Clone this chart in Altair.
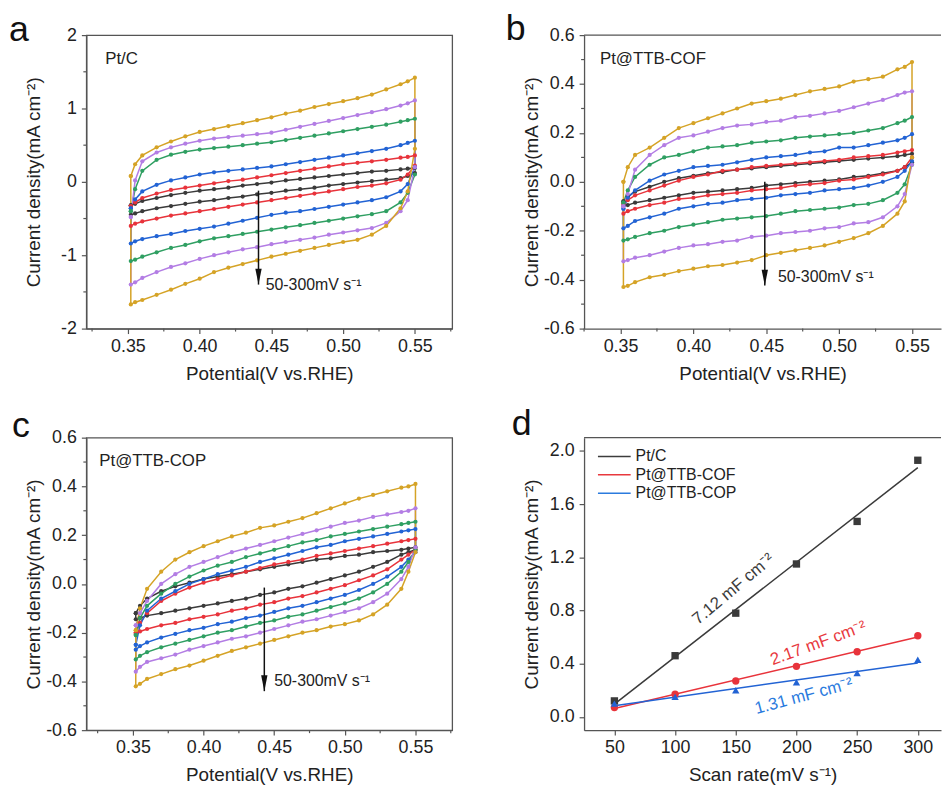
import altair as alt
import pandas as pd

FONT = "Liberation Sans"

# ---------------- CV data (potential grid, V vs RHE) ----------------
G = [0.352, 0.355, 0.36, 0.37, 0.38, 0.39, 0.40, 0.41, 0.42, 0.43, 0.44, 0.45,
     0.46, 0.47, 0.48, 0.49, 0.50, 0.51, 0.52, 0.53, 0.54, 0.545, 0.55]
RATES = [50, 100, 150, 200, 250, 300]
CV_COLORS = ["#3a3a3a", "#e8333b", "#2263d4", "#2f9f62", "#b37de4", "#d5a326"]

A_UP = {
    50: [-0.32, -0.30, -0.26, -0.22, -0.18, -0.15, -0.12, -0.10, -0.08, -0.05, -0.03, -0.01, 0.02, 0.04, 0.06, 0.08, 0.10, 0.12, 0.14, 0.15, 0.17, 0.18, 0.19],
    100: [-0.33, -0.28, -0.22, -0.16, -0.11, -0.08, -0.05, -0.02, 0.01, 0.03, 0.06, 0.09, 0.12, 0.15, 0.18, 0.21, 0.24, 0.26, 0.28, 0.30, 0.33, 0.34, 0.36],
    150: [-0.36, -0.24, -0.13, -0.04, 0.02, 0.06, 0.10, 0.13, 0.15, 0.17, 0.19, 0.21, 0.24, 0.27, 0.30, 0.33, 0.36, 0.39, 0.42, 0.45, 0.50, 0.53, 0.56],
    200: [-0.40, -0.10, 0.15, 0.30, 0.37, 0.41, 0.44, 0.46, 0.48, 0.50, 0.52, 0.54, 0.57, 0.60, 0.63, 0.66, 0.69, 0.72, 0.75, 0.78, 0.82, 0.84, 0.86],
    250: [-0.48, 0.02, 0.28, 0.40, 0.47, 0.52, 0.56, 0.59, 0.61, 0.63, 0.65, 0.67, 0.71, 0.75, 0.79, 0.83, 0.87, 0.91, 0.95, 0.99, 1.04, 1.07, 1.11],
    300: [0.08, 0.24, 0.36, 0.47, 0.55, 0.62, 0.68, 0.72, 0.76, 0.80, 0.84, 0.88, 0.93, 0.97, 1.02, 1.06, 1.10, 1.14, 1.19, 1.26, 1.33, 1.37, 1.42],
}
A_LOW = {
    50: [-0.45, -0.43, -0.40, -0.36, -0.33, -0.30, -0.27, -0.25, -0.22, -0.20, -0.17, -0.15, -0.12, -0.10, -0.08, -0.05, -0.03, -0.01, 0.01, 0.03, 0.05, 0.08, 0.12],
    100: [-0.60, -0.57, -0.54, -0.50, -0.46, -0.43, -0.40, -0.37, -0.34, -0.31, -0.28, -0.25, -0.22, -0.19, -0.16, -0.13, -0.10, -0.07, -0.05, -0.02, 0.03, 0.10, 0.22],
    150: [-0.84, -0.81, -0.78, -0.74, -0.71, -0.67, -0.64, -0.61, -0.57, -0.53, -0.49, -0.45, -0.42, -0.40, -0.37, -0.34, -0.31, -0.28, -0.25, -0.21, -0.13, -0.03, 0.20],
    200: [-1.08, -1.06, -1.02, -0.96, -0.90, -0.86, -0.81, -0.77, -0.74, -0.71, -0.68, -0.65, -0.62, -0.59, -0.56, -0.53, -0.50, -0.47, -0.44, -0.40, -0.28, -0.15, 0.10],
    250: [-1.40, -1.37, -1.31, -1.23, -1.16, -1.11, -1.05, -1.00, -0.96, -0.92, -0.89, -0.85, -0.82, -0.79, -0.76, -0.72, -0.69, -0.66, -0.63, -0.56, -0.40, -0.25, 0.20],
    300: [-1.67, -1.64, -1.61, -1.54, -1.47, -1.39, -1.32, -1.23, -1.17, -1.12, -1.07, -1.02, -0.98, -0.94, -0.90, -0.86, -0.82, -0.79, -0.72, -0.60, -0.36, -0.13, 0.45],
}

B_UP = {
    50: [-0.08, -0.06, -0.04, -0.02, 0.00, 0.015, 0.025, 0.035, 0.04, 0.05, 0.055, 0.06, 0.065, 0.07, 0.075, 0.08, 0.085, 0.09, 0.095, 0.10, 0.105, 0.11, 0.115],
    100: [-0.09, -0.075, -0.055, -0.035, -0.015, 0.005, 0.02, 0.03, 0.045, 0.05, 0.06, 0.065, 0.07, 0.075, 0.08, 0.085, 0.09, 0.10, 0.105, 0.11, 0.12, 0.125, 0.13],
    150: [-0.11, -0.065, -0.035, 0.005, 0.03, 0.045, 0.06, 0.065, 0.07, 0.08, 0.09, 0.10, 0.105, 0.11, 0.12, 0.125, 0.14, 0.14, 0.15, 0.16, 0.17, 0.18, 0.195],
    200: [-0.085, -0.035, 0.02, 0.07, 0.10, 0.11, 0.125, 0.14, 0.145, 0.15, 0.16, 0.165, 0.17, 0.18, 0.185, 0.19, 0.195, 0.20, 0.21, 0.22, 0.24, 0.25, 0.265],
    250: [-0.10, -0.05, 0.05, 0.11, 0.15, 0.18, 0.19, 0.205, 0.22, 0.23, 0.235, 0.245, 0.25, 0.265, 0.27, 0.28, 0.29, 0.305, 0.32, 0.335, 0.355, 0.365, 0.37],
    300: [0.00, 0.06, 0.11, 0.14, 0.18, 0.22, 0.24, 0.26, 0.28, 0.30, 0.32, 0.33, 0.34, 0.355, 0.37, 0.38, 0.39, 0.41, 0.42, 0.43, 0.46, 0.47, 0.49],
}
B_LOW = {
    50: [-0.10, -0.095, -0.085, -0.075, -0.065, -0.055, -0.045, -0.04, -0.035, -0.03, -0.025, -0.015, -0.01, -0.005, 0.00, 0.005, 0.01, 0.02, 0.025, 0.035, 0.045, 0.06, 0.08],
    100: [-0.13, -0.12, -0.11, -0.095, -0.085, -0.07, -0.065, -0.055, -0.05, -0.045, -0.035, -0.03, -0.025, -0.015, -0.01, -0.005, 0.005, 0.01, 0.02, 0.03, 0.045, 0.06, 0.10],
    150: [-0.19, -0.18, -0.16, -0.145, -0.13, -0.11, -0.10, -0.09, -0.085, -0.075, -0.07, -0.065, -0.055, -0.05, -0.045, -0.035, -0.03, -0.025, -0.015, 0.00, 0.02, 0.045, 0.085],
    200: [-0.24, -0.235, -0.225, -0.21, -0.20, -0.185, -0.175, -0.165, -0.155, -0.15, -0.145, -0.14, -0.13, -0.12, -0.115, -0.11, -0.105, -0.095, -0.09, -0.075, -0.045, -0.01, 0.07],
    250: [-0.325, -0.32, -0.31, -0.30, -0.285, -0.27, -0.26, -0.255, -0.245, -0.24, -0.225, -0.22, -0.21, -0.205, -0.20, -0.19, -0.185, -0.17, -0.165, -0.145, -0.10, -0.05, 0.07],
    300: [-0.43, -0.425, -0.41, -0.39, -0.38, -0.365, -0.355, -0.345, -0.34, -0.33, -0.32, -0.30, -0.29, -0.28, -0.27, -0.26, -0.245, -0.23, -0.21, -0.18, -0.13, -0.08, 0.10],
}

C_UP = {
    50: [-0.12, -0.09, -0.06, -0.03, -0.01, 0.005, 0.02, 0.03, 0.04, 0.05, 0.06, 0.07, 0.08, 0.09, 0.10, 0.105, 0.115, 0.12, 0.13, 0.135, 0.14, 0.145, 0.15],
    100: [-0.20, -0.16, -0.12, -0.07, -0.04, -0.015, 0.005, 0.02, 0.035, 0.05, 0.065, 0.08, 0.09, 0.10, 0.115, 0.125, 0.135, 0.145, 0.155, 0.165, 0.175, 0.18, 0.185],
    150: [-0.25, -0.17, -0.11, -0.06, -0.03, 0.00, 0.02, 0.04, 0.055, 0.07, 0.09, 0.105, 0.12, 0.135, 0.15, 0.16, 0.175, 0.185, 0.195, 0.205, 0.215, 0.22, 0.225],
    200: [-0.21, -0.14, -0.09, -0.04, 0.00, 0.03, 0.055, 0.075, 0.09, 0.11, 0.125, 0.14, 0.155, 0.17, 0.18, 0.195, 0.205, 0.215, 0.225, 0.235, 0.245, 0.25, 0.255],
    250: [-0.17, -0.12, -0.07, 0.00, 0.04, 0.07, 0.09, 0.11, 0.13, 0.145, 0.16, 0.175, 0.19, 0.205, 0.22, 0.235, 0.25, 0.26, 0.275, 0.285, 0.295, 0.30, 0.31],
    300: [-0.19, -0.10, -0.02, 0.05, 0.10, 0.13, 0.155, 0.175, 0.195, 0.21, 0.23, 0.24, 0.255, 0.27, 0.29, 0.31, 0.33, 0.35, 0.365, 0.38, 0.395, 0.40, 0.41],
}
C_LOW = {
    50: [-0.145, -0.14, -0.13, -0.12, -0.11, -0.10, -0.09, -0.08, -0.07, -0.06, -0.045, -0.035, -0.02, -0.01, 0.005, 0.02, 0.035, 0.05, 0.07, 0.09, 0.12, 0.13, 0.14],
    100: [-0.205, -0.195, -0.185, -0.17, -0.16, -0.145, -0.135, -0.125, -0.11, -0.10, -0.085, -0.075, -0.06, -0.05, -0.035, -0.02, -0.005, 0.015, 0.035, 0.06, 0.10, 0.12, 0.14],
    150: [-0.27, -0.255, -0.24, -0.22, -0.205, -0.19, -0.18, -0.165, -0.155, -0.14, -0.13, -0.115, -0.10, -0.09, -0.075, -0.06, -0.045, -0.025, 0.00, 0.03, 0.07, 0.10, 0.13],
    200: [-0.31, -0.295, -0.28, -0.26, -0.245, -0.23, -0.215, -0.20, -0.19, -0.175, -0.16, -0.15, -0.135, -0.125, -0.11, -0.095, -0.08, -0.06, -0.035, 0.00, 0.05, 0.09, 0.14],
    250: [-0.36, -0.34, -0.32, -0.305, -0.29, -0.27, -0.255, -0.24, -0.225, -0.215, -0.20, -0.185, -0.17, -0.155, -0.145, -0.13, -0.115, -0.10, -0.075, -0.04, 0.02, 0.07, 0.15],
    300: [-0.42, -0.41, -0.39, -0.37, -0.35, -0.335, -0.315, -0.295, -0.275, -0.26, -0.245, -0.23, -0.215, -0.20, -0.19, -0.175, -0.165, -0.15, -0.125, -0.085, -0.02, 0.05, 0.13],
}

SCAN = [50, 100, 150, 200, 250, 300]
D_PTC = [0.12, 0.46, 0.78, 1.15, 1.47, 1.93]
D_COF = [0.07, 0.17, 0.27, 0.38, 0.49, 0.61]
D_COP = [0.10, 0.15, 0.20, 0.26, 0.33, 0.43]
SAMPLES = ["Pt/C", "Pt@TTB-COF", "Pt@TTB-COP"]
D_COLORS = ["#3c3c3c", "#e8393e", "#2b7bde"]
D_SHAPES = ["square", "circle", "triangle-up"]
SLOPE_TEXT = ["7.12 mF cm\u207b\u00b2", "2.17 mF cm\u207b\u00b2", "1.31 mF cm\u207b\u00b2"]
SLOPE_X = [148, 218, 206]
SLOPE_Y = [0.96, 0.553, 0.155]
SLOPE_ANGLE = [320, 340, 345]

YTITLE = "Current density(mA cm\u207b\u00b2)"
XTITLE = "Potential(V vs.RHE)"
RATE_TEXT = "50-300mV s\u207b\u00b9"
ARROW_HEAD = "M-0.4,-1 L0.4,-1 L0,1 Z"
X_MAJOR = [0.35, 0.40, 0.45, 0.50, 0.55]
X_MINOR = [0.325, 0.375, 0.425, 0.475, 0.525, 0.575]
AXC = "#555555"


def cv_frame(up, low):
    rows = []
    for r in RATES:
        pts = list(zip(G, up[r])) + list(zip(G[::-1], low[r][::-1])) + [(G[0], up[r][0])]
        for i, (x, y) in enumerate(pts):
            rows.append({"rate": r, "i": i, "x": x, "y": y})
    return pd.DataFrame(rows)


def major_axis(title, values, fmt, **kw):
    return alt.Axis(title=title, values=values, format=fmt, tickSize=5,
                    labelExpr="replace(datum.label, '\u2212', '-')",
                    labelOverlap=False, labelFlush=False, grid=False, **kw)


def cond_axis(title, values, fmt, test, **kw):
    return alt.Axis(
        title=title, values=values, format=fmt,
        labelExpr=f"({test}) ? '' : replace(datum.label, '\u2212', '-')",
        tickSize={"condition": {"test": test, "value": 3}, "value": 5},
        labelOverlap=False, labelFlush=False, grid=False, **kw)


def one():
    return pd.DataFrame({"k": [0]})


def letter(ch, dx, dy):
    return alt.Chart(one()).mark_text(
        text=ch, font=FONT, fontSize=36, align="left", baseline="alphabetic", color="#111"
    ).encode(x=alt.value(dx), y=alt.value(dy))


def cv_panel(up, low, xdom, ydom, ymajor, yminor, yfmt, name, name_dx, lt, lt_dx, lt_dy,
             arrow_x, arrow_y0, arrow_y1, txt_x, txt_y, width, height, right_col):
    df = cv_frame(up, low)
    xenc = alt.X("x:Q", scale=alt.Scale(domain=xdom, nice=False, zero=False),
                 axis=major_axis(XTITLE, X_MAJOR, ".2f", titleY=36, labelPadding=4))
    yenc = alt.Y("y:Q", scale=alt.Scale(domain=ydom, nice=False, zero=False),
                 axis=major_axis(YTITLE, ymajor, yfmt, titleX=-43, labelPadding=5))
    col = alt.Color("rate:N", scale=alt.Scale(domain=RATES, range=CV_COLORS), legend=None)
    base = alt.Chart(df)
    lines = base.mark_line(strokeWidth=1.5).encode(x=xenc, y=yenc, color=col, order="i:Q")
    pts = base.mark_circle(size=18, opacity=1).encode(x="x:Q", y="y:Q", color=col)

    xm = pd.DataFrame({"mx": [v for v in X_MINOR if xdom[0] <= v <= xdom[1]]})
    ym = pd.DataFrame({"my": yminor})
    xminor = alt.Chart(xm).mark_rule(color=AXC, strokeWidth=1.2).encode(
        x="mx:Q", y=alt.value(height), y2=alt.value(height + 3))
    yminor_r = alt.Chart(ym).mark_rule(color=AXC, strokeWidth=1.2).encode(
        y="my:Q", x=alt.value(0), x2=alt.value(-3))

    adf = pd.DataFrame({"x": [arrow_x], "y0": [arrow_y0], "y1": [arrow_y1]})
    rule = alt.Chart(adf).mark_rule(color="#111", strokeWidth=1.5).encode(
        x="x:Q", y="y0:Q", y2="y1:Q")
    head = alt.Chart(adf).mark_point(shape=ARROW_HEAD, size=256, filled=True, opacity=1,
                                     color="#111", yOffset=-8).encode(x="x:Q", y="y1:Q")
    tdf = pd.DataFrame({"x": [txt_x], "y": [txt_y], "t": [RATE_TEXT]})
    rtxt = alt.Chart(tdf).mark_text(font=FONT, fontSize=16, align="left", baseline="middle",
                                    color="#222").encode(x="x:Q", y="y:Q", text="t:N")
    ntxt = alt.Chart(one()).mark_text(text=name, font=FONT, fontSize=17, align="left",
                                      baseline="alphabetic", color="#222").encode(
        x=alt.value(name_dx), y=alt.value(29))
    layers = [lines, pts, xminor, yminor_r, rule, head, rtxt, ntxt, letter(lt, lt_dx, lt_dy)]
    props = dict(width=width, height=height)
    if right_col:
        layers.append(alt.Chart(one()).mark_rule(color=AXC, strokeWidth=1.3).encode(
            x=alt.value(0), x2=alt.value(width), y=alt.value(0)))
        props["view"] = alt.ViewBackground(strokeOpacity=0)
    return alt.layer(*layers).properties(**props)


W1, W2, H1, H2 = 369, 360, 296, 295
CV_MINOR_02 = [-0.5, -0.3, -0.1, 0.1, 0.3, 0.5]
CV_MAJOR_02 = [-0.6, -0.4, -0.2, 0.0, 0.2, 0.4, 0.6]

pa = cv_panel(A_UP, A_LOW, [0.321, 0.576], [-2, 2], [-2, -1, 0, 1, 2], [-1.5, -0.5, 0.5, 1.5], "d",
              "Pt/C", 19, "a", -78, 6, 0.441, -0.12, -1.40, 0.446, -1.40, W1, H1, False)
pb = cv_panel(B_UP, B_LOW, [0.325, 0.325 + W2 / 1470.0], [-0.6, 0.6], CV_MAJOR_02, CV_MINOR_02, ".1f",
              "Pt@TTB-COF", 16, "b", -79, 5, 0.449, 0.0, -0.424, 0.458, -0.39, W2, H1, True)
pc = cv_panel(C_UP, C_LOW, [0.317, 0.576], [-0.6, 0.6], CV_MAJOR_02, CV_MINOR_02, ".1f",
              "Pt@TTB-COP", 13, "c", -75, -1, 0.443, -0.015, -0.44, 0.450, -0.40, W1, H2, False)

# ---------------- panel d ----------------
rows = []
for s, vals in zip(SAMPLES, [D_PTC, D_COF, D_COP]):
    for r, j in zip(SCAN, vals):
        rows.append({"sample": s, "rate": r, "j": j})
ddf = pd.DataFrame(rows)

dx_dom = [25, 25 + W2 / 1.224]
d_xtest = "datum.value % 50 != 0"
d_ytest = "abs(datum.value*2.5 - round(datum.value*2.5)) > 0.01"
dxenc = alt.X("rate:Q", scale=alt.Scale(domain=dx_dom, nice=False, zero=False),
              axis=cond_axis("Scan rate(mV s\u207b\u00b9)", [50, 75, 100, 125, 150, 175, 200, 225, 250, 275, 300],
                             "d", d_xtest, titleY=36, labelPadding=4))
dyenc = alt.Y("j:Q", scale=alt.Scale(domain=[-0.1, 2.1], nice=False, zero=False),
              axis=cond_axis(YTITLE, [0, 0.2, 0.4, 0.6, 0.8, 1.0, 1.2, 1.4, 1.6, 1.8, 2.0],
                             ".1f", d_ytest, titleX=-43, labelPadding=5))
dcol = alt.Color("sample:N", scale=alt.Scale(domain=SAMPLES, range=D_COLORS), legend=None)
dshape = alt.Shape("sample:N", scale=alt.Scale(domain=SAMPLES, range=D_SHAPES), legend=None)

dbase = alt.Chart(ddf)
fit = dbase.transform_regression("rate", "j", groupby=["sample"]).mark_line(strokeWidth=1.5).encode(
    x=dxenc, y=dyenc, color=dcol)
dpts = dbase.mark_point(filled=True, size=55, opacity=1).encode(
    x="rate:Q", y="j:Q", color=dcol, shape=dshape)

d_layers = [fit, dpts]
for t, x, y, a, c in zip(SLOPE_TEXT, SLOPE_X, SLOPE_Y, SLOPE_ANGLE, D_COLORS):
    sdf = pd.DataFrame({"rate": [x], "j": [y], "t": [t]})
    d_layers.append(alt.Chart(sdf).mark_text(font=FONT, fontSize=17, angle=a, align="center",
                                             baseline="middle", color=c).encode(
        x="rate:Q", y="j:Q", text="t:N"))
for k, (s, c) in enumerate(zip(SAMPLES, D_COLORS)):
    ly = 19 + 18.5 * k
    d_layers.append(alt.Chart(one()).mark_rule(color=c, strokeWidth=1.5).encode(
        x=alt.value(14), x2=alt.value(47), y=alt.value(ly)))
    d_layers.append(alt.Chart(one()).mark_text(text=s, font=FONT, fontSize=16, align="left",
                                               baseline="middle", color="#222").encode(
        x=alt.value(52), y=alt.value(ly)))
d_layers.append(alt.Chart(one()).mark_rule(color=AXC, strokeWidth=1.3).encode(
    x=alt.value(0), x2=alt.value(W2), y=alt.value(0)))
d_layers.append(letter("d", -73, -3))
pd_ = alt.layer(*d_layers).properties(width=W2, height=H2, view=alt.ViewBackground(strokeOpacity=0))

chart = alt.concat(pa, pb, pc, pd_, columns=2, spacing={"row": 22, "column": 53}).properties(
    padding={"left": 0, "top": 0, "right": 0, "bottom": 0}
).configure_axis(
    labelFont=FONT, titleFont=FONT, labelFontSize=18, titleFontSize=19,
    titleFontWeight="normal", labelColor="#222", titleColor="#222",
    domainColor=AXC, tickColor=AXC, domainWidth=1.3, tickWidth=1.2
).configure_view(stroke=AXC, strokeWidth=1.3)

chart.save("out.html", embed_options={"renderer": "svg", "actions": False})
